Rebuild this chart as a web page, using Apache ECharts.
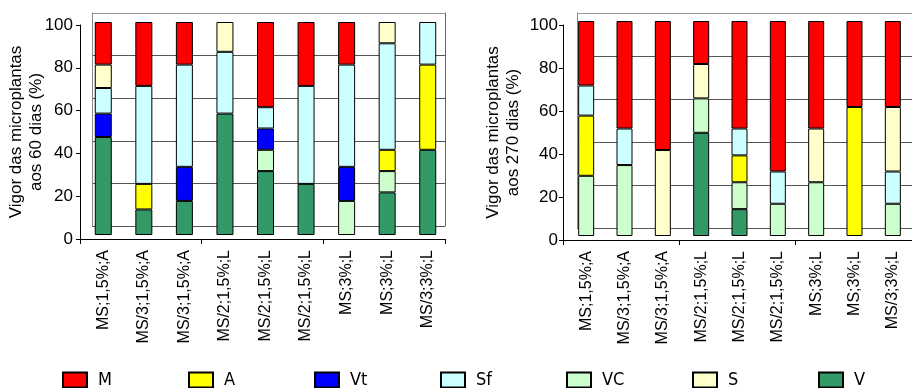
<!DOCTYPE html>
<html><head><meta charset="utf-8">
<script src="https://cdn.jsdelivr.net/npm/echarts@6/dist/echarts.min.js"></script>
<style>html,body{margin:0;padding:0;background:#fff}#c{width:912px;height:388px}</style>
</head><body><div id="c"></div>
<script>
const categories = ['MS;1,5%;A','MS/3;1,5%;A','MS/3;1,5%;A','MS/2;1,5%;L','MS/2;1,5%;L','MS/2;1,5%;L','MS;3%;L','MS;3%;L','MS/3;3%;L'];
const legendOrder = ['M','A','Vt','Sf','VC','S','V'];
const stackOrder = ['V','VC','Vt','A','Sf','S','M'];
const colors = {M:'#FF0000',A:'#FFFF00',Vt:'#0000FF',Sf:'#CCFFFF',VC:'#CCFFCC',S:'#FFFFCC',V:'#339966'};

// 60 dias
const M60  = [20,30,20, 0,40,30,20, 0, 0];
const A60  = [ 0,12, 0, 0, 0, 0, 0,10,40];
const Vt60 = [11, 0,16, 0,10, 0,16, 0, 0];
const Sf60 = [12,46,48,29,10,46,48,50,20];
const VC60 = [ 0, 0, 0, 0,10, 0,16,10, 0];
const S60  = [11, 0, 0,14, 0, 0, 0,10, 0];
const V60  = [46,12,16,57,30,24, 0,20,40];

// 270 dias
const M270  = [30,50,60,20,50,70,50,40,40];
const A270  = [28, 0, 0, 0,12.5, 0, 0,60, 0];
const Vt270 = [ 0, 0, 0, 0, 0, 0, 0, 0, 0];
const Sf270 = [14,17, 0, 0,12.5,15, 0, 0,15];
const VC270 = [28,33, 0,16,12.5,15,25, 0,15];
const S270  = [ 0, 0,40,16, 0, 0,25, 0,30];
const V270  = [ 0, 0, 0,48,12.5, 0, 0, 0, 0];

const data60 = {M:M60,A:A60,Vt:Vt60,Sf:Sf60,VC:VC60,S:S60,V:V60};
const data270 = {M:M270,A:A270,Vt:Vt270,Sf:Sf270,VC:VC270,S:S270,V:V270};

const FONT = 'Arial, "Liberation Sans", sans-serif';
const NARROW = '"Liberation Sans Narrow", "Arial Narrow", "DejaVu Sans Condensed", Arial, sans-serif';
const chart = echarts.init(document.getElementById('c'), null, {renderer:'canvas'});

const panels = [
  {title:'Vigor das microplantas\naos 60 dias (%)', data:data60,
   back:{left:92,top:13,width:353,height:213}, bars:{left:83,top:22,width:365,height:213},
   front:{left:80,top:25,width:365,height:214}, barWidth:17, labelMargin:7, nameGap:34},
  {title:'Vigor das microplantas\naos 270 dias (%)', data:data270,
   back:{left:577,top:13,width:360,height:215}, bars:{left:567,top:21,width:354,height:215},
   front:{left:563,top:25,width:354,height:215}, barWidth:16, labelMargin:5, nameGap:40}
];

const grid=[], xAxis=[], yAxis=[], series=[];
panels.forEach((p,pi)=>{
  const gb = grid.length;
  grid.push(Object.assign({containLabel:false}, p.back));
  grid.push(Object.assign({containLabel:false}, p.bars));
  grid.push(Object.assign({containLabel:false}, p.front));
  // back wall
  xAxis.push({type:'category', gridIndex:gb, data:categories, show:false});
  yAxis.push({type:'value', gridIndex:gb, min:0, max:100, interval:20,
    axisLabel:{show:false}, axisTick:{show:false},
    axisLine:{show:true, lineStyle:{color:'#888', width:1}},
    splitLine:{show:true, lineStyle:{color:['#555','#555','#555','#555','#555','#999'], width:1}}});
  // bars
  xAxis.push({type:'category', gridIndex:gb+1, data:categories,
    axisLine:{show:false}, axisTick:{show:false},
    axisLabel:{interval:0, rotate:90, margin:15, fontSize:16, color:'#000', fontFamily:FONT}});
  const yb = yAxis.length;
  yAxis.push({type:'value', gridIndex:gb+1, min:0, max:100, interval:20, show:false});
  // front
  xAxis.push({type:'category', gridIndex:gb+2, data:categories,
    axisLine:{show:true, lineStyle:{color:'#000', width:1}},
    axisTick:{show:true, length:5, lineStyle:{color:'#000'}},
    axisLabel:{show:false}});
  yAxis.push({type:'value', gridIndex:gb+2, min:0, max:100, interval:20,
    axisLine:{show:true, lineStyle:{color:'#000', width:1}},
    axisTick:{show:true, length:4, lineStyle:{color:'#000'}},
    splitLine:{show:false},
    axisLabel:{fontSize:17, color:'#000', fontFamily:FONT, margin:p.labelMargin},
    name:p.title, nameLocation:'middle', nameRotate:90, nameGap:p.nameGap, nameMoveOverlap:false,
    nameTextStyle:{fontSize:17, lineHeight:20, color:'#000', fontFamily:FONT, align:'center'}});
  if (pi===0) {
    yAxis.push({type:'value', gridIndex:gb, min:0, max:100, interval:20, position:'right',
      axisLabel:{show:false}, axisTick:{show:false}, splitLine:{show:false},
      axisLine:{show:true, lineStyle:{color:'#666', width:1}}});
  }
  stackOrder.forEach(name=>{
    series.push({type:'bar', name:name, xAxisIndex:gb+1, yAxisIndex:yb, stack:'s'+pi,
      barWidth:p.barWidth, data:p.data[name].map(v=>v===0?'-':v),
      itemStyle:{color:colors[name], borderColor:'#000', borderWidth:1},
      emphasis:{disabled:true}, animation:false});
  });
});

const legend = legendOrder.map((name,i)=>({
  data:[name], left:57 + i*126, top:366, itemWidth:24, itemHeight:15, padding:5,
  icon:'rect', selectedMode:false,
  textStyle:{color:'#000', fontFamily:NARROW, fontSize:18, padding:[0,0,0,6]}
}));

chart.setOption({
  animation:false,
  grid, xAxis, yAxis, series, legend
});
</script></body></html>
